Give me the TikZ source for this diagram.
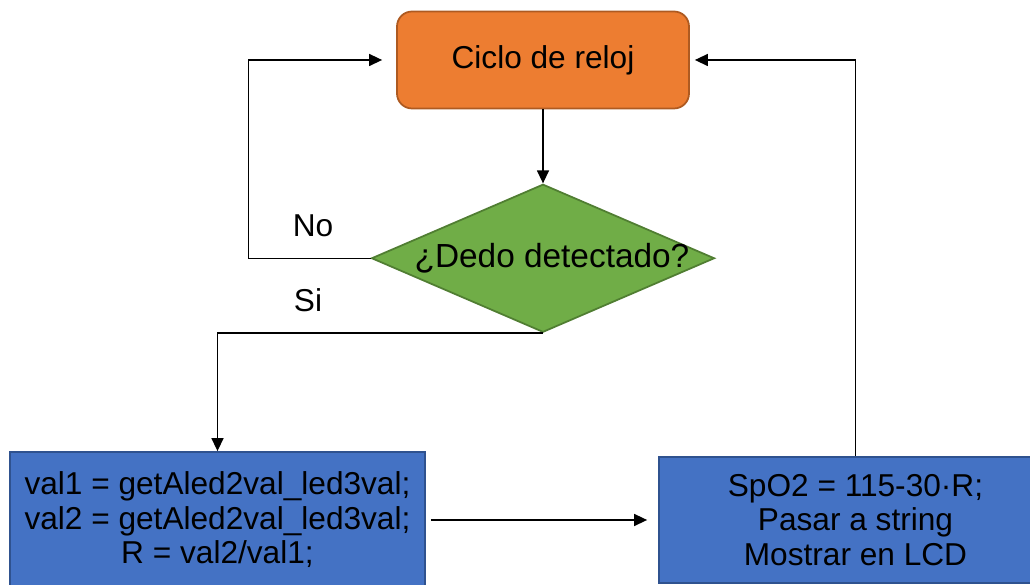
\documentclass[tikz,border=0pt]{standalone}
\usepackage{fontspec}
\setmainfont{Liberation Sans}
\usepackage{xcolor}
\usetikzlibrary{arrows.meta,positioning,shapes.geometric}

\definecolor{clockorange}{HTML}{ED7D31}
\definecolor{clockedge}{HTML}{AE5A21}
\definecolor{testgreen}{HTML}{70AD47}
\definecolor{testedge}{HTML}{507E32}
\definecolor{stepblue}{HTML}{4472C4}
\definecolor{stepedge}{HTML}{2F528F}

\begin{document}
\begin{tikzpicture}[
  font=\fontsize{18}{19.6}\selectfont,
  box/.style={draw=stepedge, fill=stepblue, line width=1pt, align=center, inner sep=0pt},
  arrow/.style={-{Triangle[length=2.6mm,width=2.4mm]}, line width=0.8pt}
]
\useasboundingbox (0,0) rectangle (20.6,11.7);
\node[draw=clockedge, fill=clockorange, rounded corners=0.3cm, line width=1pt, minimum width=5.84cm, minimum height=1.94cm] (clock) at (10.86,10.5) {Ciclo de reloj};
\node[diamond, draw=testedge, fill=testgreen, line width=1pt, minimum width=6.86cm, minimum height=2.96cm, inner sep=0pt, below=1.48cm of clock, label={[xshift=1.8mm, font=\fontsize{19}{21}\selectfont]center:¿Dedo detectado?}] (finger) {};
\node[box, minimum width=8.3cm, minimum height=2.72cm] (calc) at (4.35,1.3) {val1 = getAled2val\_led3val;\\val2 = getAled2val\_led3val;\\R = val2/val1;};
\node[box, minimum width=7.86cm, minimum height=2.52cm] (show) at (17.11,1.3) {SpO2 = 115-30·R;\\Pasar a string\\Mostrar en LCD};
\coordinate (noturn) at ([xshift=-2.44cm]finger.west);
\node (nolbl) at (6.26,7.18) {No};
\node (silbl) at (6.16,5.7) {Si};
\draw[arrow] (clock) -- (finger);
\draw[arrow, shorten >=2.8mm] (finger.west) -- (noturn) |- (clock.west);
\draw[arrow] (finger.south) -| (calc.north);
\draw[arrow, shorten <=1mm, shorten >=2.2mm] (calc) -- (show);
\draw[arrow, shorten >=1mm] (show.north) |- (clock.east);
\end{tikzpicture}
\end{document}
